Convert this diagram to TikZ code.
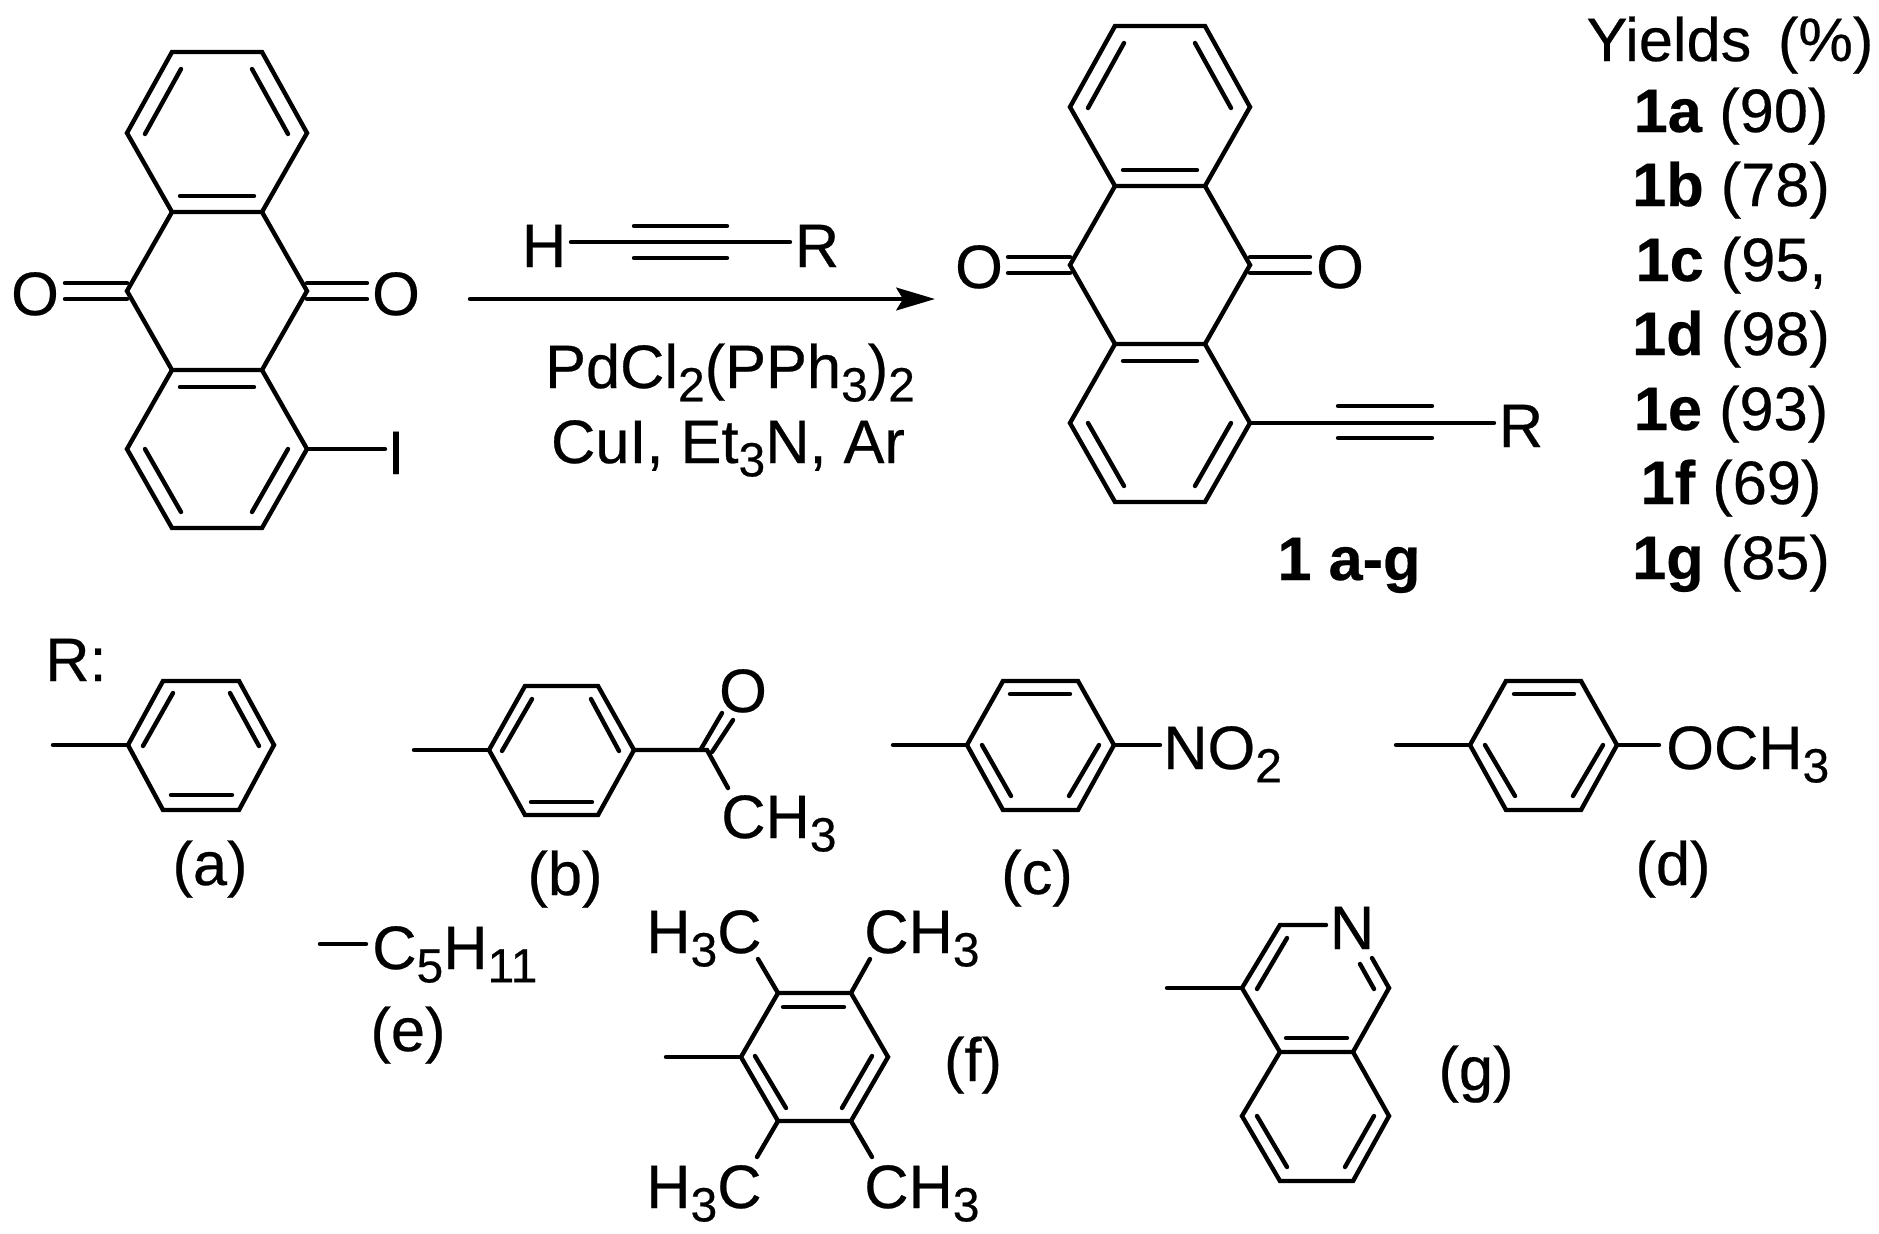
\documentclass[tikz,border=0pt]{standalone}
\usepackage{fontspec}
\setmainfont{Liberation Sans}[FakeBold=0.4]
\usetikzlibrary{arrows.meta}
\newcommand{\chemsub}[1]{\raisebox{-10pt}{\fontsize{36}{36}\selectfont #1}}
\tikzset{
  bond/.style={line width=3.3pt,line cap=round},
  chem/.style={inner sep=0pt,font=\fontsize{46}{48}\selectfont,anchor=base},
  chemw/.style={chem,anchor=base west},
}

\begin{document}
\begin{tikzpicture}[x=0.75pt,y=0.75pt,yscale=-1,xscale=1]
\useasboundingbox (0,0) rectangle (1879,1233);

%Shape: left quinone
\draw [bond] (172,52) -- (262,52) -- (307,133) -- (262,212) -- (172,212) -- (127,133) -- cycle ;
\draw [bond] (172,212) -- (127,291) -- (172,370) ;
\draw [bond] (262,212) -- (307,291) -- (262,370) ;
\draw [bond] (172,370) -- (262,370) -- (307,449) -- (262,528) -- (172,528) -- (127,449) -- cycle ;
%Straight Lines
\draw [bond] (181,69) -- (145,134) ;
\draw [bond] (252,69) -- (288,134) ;
\draw [bond] (180,196) -- (254,196) ;
\draw [bond] (180,387) -- (254,387) ;
\draw [bond] (145,449) -- (181,512) ;
\draw [bond] (288,449) -- (252,512) ;
\draw [bond] (65,283) -- (127,283) ;
\draw [bond] (65,299) -- (127,299) ;
\draw [bond] (307,283) -- (367,283) ;
\draw [bond] (307,299) -- (367,299) ;
\draw [bond] (307,449) -- (385,449) ;

%Straight Lines: reagent and arrow
\draw [bond] (571,242) -- (790,242) ;
\draw [bond] (634,226) -- (727,226) ;
\draw [bond] (634,258) -- (727,258) ;
\coordinate (arrowstart) at (470,299);
\coordinate (arrowend) at (935,299);
\draw [bond,-{Stealth[length=29pt,width=17pt,inset=5pt]}] (arrowstart) -- (arrowend) ;

%Shape: right quinone
\draw [bond] (1115,26) -- (1205,26) -- (1250,107) -- (1205,186) -- (1115,186) -- (1070,107) -- cycle ;
\draw [bond] (1115,186) -- (1070,265) -- (1115,344) ;
\draw [bond] (1205,186) -- (1250,265) -- (1205,344) ;
\draw [bond] (1115,344) -- (1205,344) -- (1250,423) -- (1205,502) -- (1115,502) -- (1070,423) -- cycle ;
%Straight Lines
\draw [bond] (1124,43) -- (1088,108) ;
\draw [bond] (1195,43) -- (1231,108) ;
\draw [bond] (1123,170) -- (1197,170) ;
\draw [bond] (1123,361) -- (1197,361) ;
\draw [bond] (1088,423) -- (1124,486) ;
\draw [bond] (1231,423) -- (1195,486) ;
\draw [bond] (1008,257) -- (1070,257) ;
\draw [bond] (1008,273) -- (1070,273) ;
\draw [bond] (1250,257) -- (1310,257) ;
\draw [bond] (1250,273) -- (1310,273) ;
\draw [bond] (1250,423) -- (1494,423) ;
\draw [bond] (1338,406) -- (1432,406) ;
\draw [bond] (1338,438) -- (1432,438) ;

%Shape: ring a
\draw [bond] (163,681) -- (239,681) -- (274,745) -- (239,810) -- (163,810) -- (128,745) -- cycle ;
\draw [bond] (53,745) -- (128,745) ;
\draw [bond] (173,693) -- (143,746) ;
\draw [bond] (230,693) -- (259,746) ;
\draw [bond] (171,795) -- (232,795) ;

%Shape: ring b
\draw [bond] (525,686) -- (598,686) -- (634,750) -- (598,815) -- (525,815) -- (489,750) -- cycle ;
\draw [bond] (414,750) -- (489,750) ;
\draw [bond] (532,699) -- (502,751) ;
\draw [bond] (591,699) -- (619,751) ;
\draw [bond] (531,802) -- (592,802) ;
\draw [bond] (634,750) -- (707,750) -- (728,788) ;
\draw [bond] (701,749) -- (722,713) ;
\draw [bond] (712,752) -- (733,720) ;

%Shape: ring c
\draw [bond] (1003,681) -- (1078,681) -- (1114,745) -- (1078,810) -- (1003,810) -- (967,745) -- cycle ;
\draw [bond] (893,745) -- (967,745) ;
\draw [bond] (1114,745) -- (1160,745) ;
\draw [bond] (1010,694) -- (1070,694) ;
\draw [bond] (982,745) -- (1011,796) ;
\draw [bond] (1099,745) -- (1069,796) ;

%Shape: ring d
\draw [bond] (1506,681) -- (1581,681) -- (1617,745) -- (1581,810) -- (1506,810) -- (1470,745) -- cycle ;
\draw [bond] (1396,745) -- (1470,745) ;
\draw [bond] (1617,745) -- (1659,745) ;
\draw [bond] (1514,694) -- (1574,694) ;
\draw [bond] (1485,745) -- (1515,796) ;
\draw [bond] (1603,745) -- (1573,796) ;

%Straight Lines: e
\draw [bond] (320,944) -- (366,944) ;

%Shape: ring f
\draw [bond] (778,993) -- (851,993) -- (888,1057) -- (851,1121) -- (778,1121) -- (741,1057) -- cycle ;
\draw [bond] (666,1057) -- (741,1057) ;
\draw [bond] (783,1007) -- (844,1007) ;
\draw [bond] (755,1056) -- (786,1108) ;
\draw [bond] (872,1056) -- (842,1108) ;
\draw [bond] (778,993) -- (758,959) ;
\draw [bond] (851,993) -- (870,959) ;
\draw [bond] (778,1121) -- (757,1157) ;
\draw [bond] (851,1121) -- (872,1157) ;

%Shape: ring g
\draw [bond] (1326,925) -- (1280,925) -- (1242,988) -- (1280,1052) -- (1353,1052) -- (1389,988) -- (1372,958) ;
\draw [bond] (1280,1052) -- (1242,1116) -- (1280,1181) -- (1353,1181) -- (1389,1116) -- (1353,1052) ;
\draw [bond] (1167,988) -- (1242,988) ;
\draw [bond] (1360,964) -- (1374,989) ;
\draw [bond] (1287,938) -- (1257,989) ;
\draw [bond] (1286,1038) -- (1347,1038) ;
\draw [bond] (1257,1116) -- (1287,1167) ;
\draw [bond] (1374,1116) -- (1345,1167) ;

% Text Node
\node (oxleft) [chem] at (35,315) {O};
\node (oxright) [chem] at (396,315) {O};
\node (iodine) [chem] at (396,474) {I};
\node (hatom) [chem] at (544,267) {H};
\node (ratom) [chem] at (817,267) {R};
\node (catalyst) [chem] at (730,388) {PdCl\chemsub{2}(PPh\chemsub{3})\chemsub{2}};
\node (base) [chem] at (728,463) {CuI, Et\chemsub{3}N, Ar};
\node (oxprodl) [chem] at (979,288) {O};
\node (oxprodr) [chem] at (1340,288) {O};
\node (rprod) [chem] at (1521,447) {R};
\node (prodname) [chem] at (1349,580) {\textbf{1 a-g}};
% Text Node
\node (yields) [chem] at (1730,61) {Yields\hspace{20pt}(\%)};
\node (ya) [chem] at (1731,132) {\textbf{1a} (90)};
\node (yb) [chem] at (1731,206) {\textbf{1b} (78)};
\node (yc) [chem] at (1731,281) {\textbf{1c} (95,};
\node (yd) [chem] at (1731,355) {\textbf{1d} (98)};
\node (ye) [chem] at (1731,430) {\textbf{1e} (93)};
\node (yf) [chem] at (1731,504) {\textbf{1f} (69)};
\node (yg) [chem] at (1731,579) {\textbf{1g} (85)};
% Text Node
\node (rlabel) [chemw] at (45,681) {R:};
\node (laba) [chem] at (210,885) {(a)};
\node (labb) [chem] at (565,895) {(b)};
\node (labc) [chem] at (1037,894) {(c)};
\node (labd) [chem] at (1673,885) {(d)};
\node (labe) [chem] at (408,1051) {(e)};
\node (labf) [chem] at (973,1081) {(f)};
\node (labg) [chem] at (1476,1090) {(g)};
% Text Node
\node (oxb) [chem] at (743,712) {O};
\node (methb) [chemw] at (721,838) {CH\chemsub{3}};
\node (nitro) [chemw] at (1163,769) {NO\chemsub{2}};
\node (methoxy) [chemw] at (1666,769) {OCH\chemsub{3}};
\node (pentyl) [chemw] at (372,969) {C\chemsub{5}H\chemsub{11}};
\node (methtl) [chemw] at (646,953) {H\chemsub{3}C};
\node (methtr) [chemw] at (864,953) {CH\chemsub{3}};
\node (methbl) [chemw] at (646,1208) {H\chemsub{3}C};
\node (methbr) [chemw] at (864,1208) {CH\chemsub{3}};
\node (nitrogen) [chem] at (1352,949) {N};

\end{tikzpicture}
\end{document}
